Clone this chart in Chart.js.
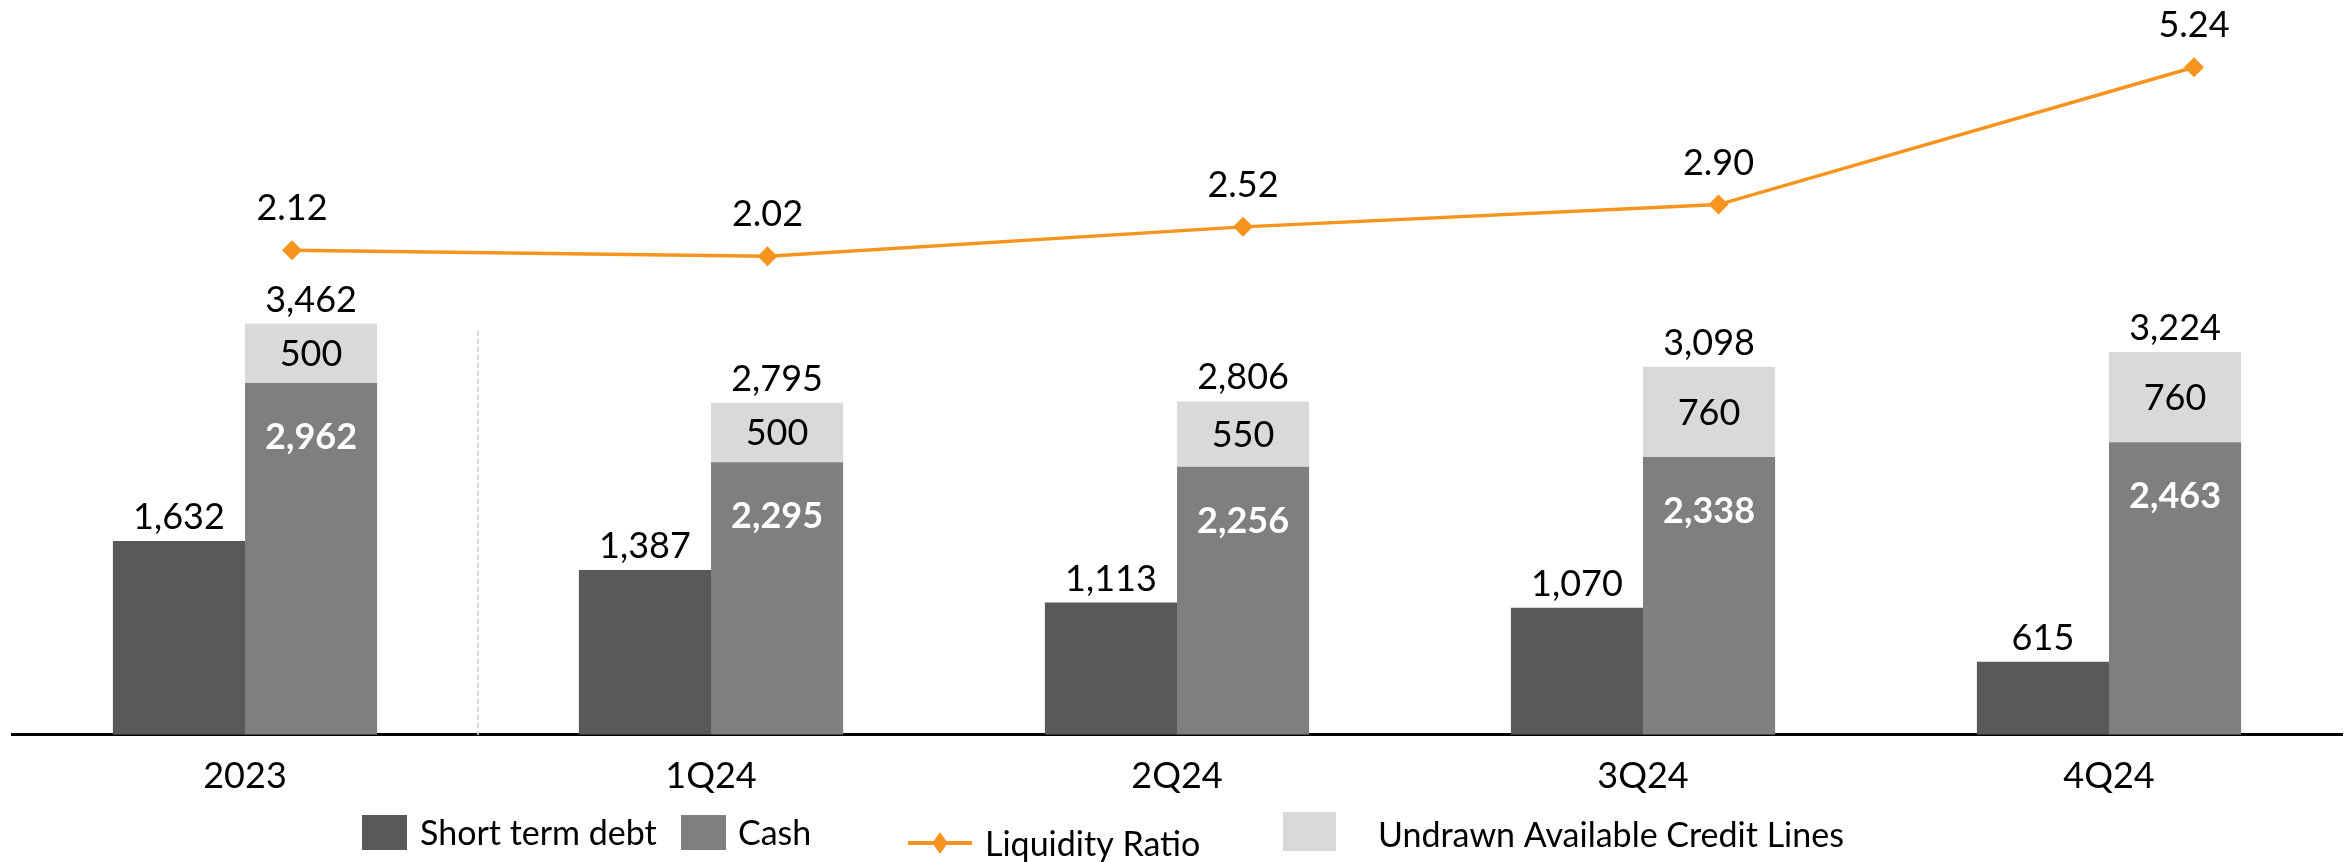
<!DOCTYPE html>
<html>
<head>
<meta charset="utf-8">
<script src="https://cdn.jsdelivr.net/npm/chart.js@4.4.1/dist/chart.umd.min.js"></script>
<style>
  html, body { margin: 0; padding: 0; background: #fff; }
  #wrap { width: 2351px; height: 862px; position: relative; }
  #wrap canvas { position: absolute; left: 0; top: 0; }
</style>
</head>
<body>
<div id="wrap">
  <canvas id="bars" width="2351" height="862"></canvas>
  <canvas id="ratio" width="2351" height="862"></canvas>
</div>
<script>
// data (USD m)
const categories = ['2023', '1Q24', '2Q24', '3Q24', '4Q24'];
const shortTermDebt = [1632, 1387, 1113, 1070, 615];
const cash = [2962, 2295, 2256, 2338, 2463];
const undrawnLines = [500, 500, 550, 760, 760];
const totalLiquidity = [3462, 2795, 2806, 3098, 3224];
const liquidityRatio = [2.12, 2.02, 2.52, 2.90, 5.24];

const COLORS = { debt: '#58595b', cash: '#7f7f7f', undrawn: '#d9d9d9', ratio: '#f7941d' };
const FONT = 'Lato, "Open Sans", sans-serif';

Chart.defaults.font.family = FONT;
Chart.defaults.color = '#000';

function fmt(v) { return v.toLocaleString('en-US'); }

// numbers on the bars
const barLabels = {
  id: 'barLabels',
  afterDatasetsDraw(chart) {
    const ctx = chart.ctx;
    ctx.save();
    ctx.textAlign = 'center';
    ctx.textBaseline = 'alphabetic';
    ctx.font = '36px ' + FONT;
    ctx.fillStyle = '#000';
    chart.getDatasetMeta(0).data.forEach((bar, i) => {
      ctx.fillText(fmt(shortTermDebt[i]), bar.x, bar.y - 12);
    });
    chart.getDatasetMeta(2).data.forEach((bar, i) => {
      ctx.fillText(fmt(undrawnLines[i]), bar.x, (bar.y + bar.base) / 2 + 13);
      ctx.fillText(fmt(totalLiquidity[i]), bar.x, bar.y - 12);
    });
    ctx.font = 'bold 36px ' + FONT;
    ctx.fillStyle = '#fff';
    chart.getDatasetMeta(1).data.forEach((bar, i) => {
      ctx.fillText(fmt(cash[i]), bar.x, bar.y + 66);
    });
    ctx.restore();
  }
};

// numbers above the ratio line
const ratioLabels = {
  id: 'ratioLabels',
  afterDatasetsDraw(chart) {
    const ctx = chart.ctx;
    ctx.save();
    ctx.textAlign = 'center';
    ctx.font = '36px ' + FONT;
    ctx.fillStyle = '#000';
    chart.getDatasetMeta(0).data.forEach((pt, i) => {
      ctx.fillText(liquidityRatio[i].toFixed(2), pt.x, pt.y - 30);
    });
    ctx.restore();
  }
};

// dashed divider between the year and the quarters
const divider = {
  id: 'divider',
  beforeDatasetsDraw(chart) {
    const { ctx, scales: { x, y } } = chart;
    const sx = (x.getPixelForValue(0) + x.getPixelForValue(1)) / 2;
    ctx.save();
    ctx.strokeStyle = '#d9d9d9';
    ctx.lineWidth = 2;
    ctx.setLineDash([5, 3]);
    ctx.beginPath();
    ctx.moveTo(sx, y.getPixelForValue(3400));
    ctx.lineTo(sx, y.getPixelForValue(0));
    ctx.stroke();
    ctx.restore();
  }
};

// legend laid out like the source slide
const legendItems = [
  { text: 'Short term debt', kind: 'box', color: COLORS.debt, x: 362, y: 815, w: 45, h: 35, tx: 420, ty: 845 },
  { text: 'Cash', kind: 'box', color: COLORS.cash, x: 681, y: 815, w: 45, h: 35, tx: 738, ty: 845 },
  { text: 'Liquidity Ratio', kind: 'line', color: COLORS.ratio, x: 908, y: 843, w: 64, h: 0, tx: 985, ty: 856 },
  { text: 'Undrawn Available Credit Lines', kind: 'box', color: COLORS.undrawn, x: 1283, y: 812, w: 53, h: 39, tx: 1378, ty: 847 }
];

const slideLegend = {
  id: 'slideLegend',
  afterDraw(chart) {
    const ctx = chart.ctx;
    ctx.save();
    legendItems.forEach(it => {
      ctx.fillStyle = it.color;
      if (it.kind === 'box') {
        ctx.fillRect(it.x, it.y, it.w, it.h);
      } else {
        ctx.strokeStyle = it.color;
        ctx.lineWidth = 4;
        ctx.beginPath();
        ctx.moveTo(it.x, it.y);
        ctx.lineTo(it.x + it.w, it.y);
        ctx.stroke();
        const cx = it.x + it.w / 2, r = 11;
        ctx.beginPath();
        ctx.moveTo(cx, it.y - r);
        ctx.lineTo(cx + r * 0.7, it.y);
        ctx.lineTo(cx, it.y + r);
        ctx.lineTo(cx - r * 0.7, it.y);
        ctx.closePath();
        ctx.fill();
      }
      ctx.fillStyle = '#000';
      ctx.font = '34px ' + FONT;
      ctx.textAlign = 'left';
      ctx.textBaseline = 'alphabetic';
      ctx.fillText(it.text, it.tx, it.ty);
    });
    ctx.restore();
  }
};

// bars
new Chart(document.getElementById('bars'), {
  type: 'bar',
  data: {
    labels: categories,
    datasets: [
      { label: 'Short term debt', data: shortTermDebt, backgroundColor: COLORS.debt, stack: 'debt' },
      { label: 'Cash', data: cash, backgroundColor: COLORS.cash, stack: 'liquidity' },
      { label: 'Undrawn Available Credit Lines', data: undrawnLines, backgroundColor: COLORS.undrawn, stack: 'liquidity' }
    ]
  },
  options: {
    responsive: false,
    animation: false,
    devicePixelRatio: 1,
    categoryPercentage: 0.567,
    barPercentage: 1,
    layout: { padding: { left: 12, right: 9, top: 22, bottom: 44 } },
    plugins: { legend: { display: false }, tooltip: { enabled: false } },
    scales: {
      x: {
        stacked: true,
        z: 1,
        grid: { display: false, drawTicks: false },
        border: { display: true, color: '#000', width: 3 },
        ticks: { font: { size: 36 }, color: '#000', padding: 20 }
      },
      y: { stacked: true, display: false, min: 0, max: 6000 }
    }
  },
  plugins: [divider, barLabels, slideLegend]
});

// liquidity ratio line, on its own overlay; its points sit a bit right of the bar groups
new Chart(document.getElementById('ratio'), {
  type: 'line',
  data: {
    labels: categories,
    datasets: [{
      label: 'Liquidity Ratio', data: liquidityRatio,
      borderColor: COLORS.ratio, borderWidth: 3.5, tension: 0, clip: false,
      pointStyle: 'rectRot', pointRadius: 10, pointBackgroundColor: COLORS.ratio, pointBorderWidth: 0
    }]
  },
  options: {
    responsive: false,
    animation: false,
    devicePixelRatio: 1,
    layout: { padding: { left: 292, right: 157, top: 22, bottom: 125 } },
    plugins: { legend: { display: false }, tooltip: { enabled: false } },
    scales: {
      x: { display: false, offset: false },
      y: { display: false, min: -6.17, max: 6.01 }
    }
  },
  plugins: [ratioLabels]
});
</script>
</body>
</html>
